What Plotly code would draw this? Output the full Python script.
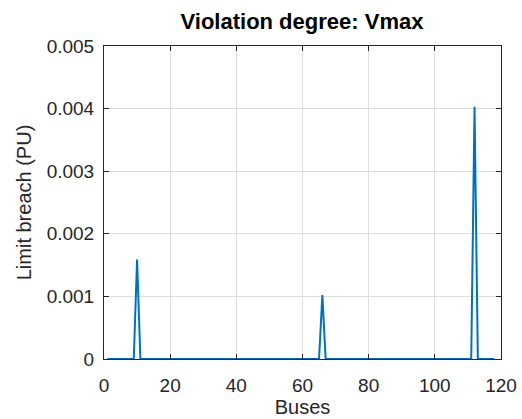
import plotly.graph_objects as go

buses = list(range(1, 119))
spike_buses = [10, 66, 112]
spike_values = [0.00159, 0.00102, 0.00403]

values = [0.0] * len(buses)
for b, v in zip(spike_buses, spike_values):
    values[buses.index(b)] = v

x_ticks = [0, 20, 40, 60, 80, 100, 120]
y_ticks = [0, 0.001, 0.002, 0.003, 0.004, 0.005]
y_tick_labels = ["0", "0.001", "0.002", "0.003", "0.004", "0.005"]

font_family = "Liberation Sans, Arial, sans-serif"

fig = go.Figure()
fig.add_trace(go.Scatter(x=buses, y=values, mode="lines",
                         line=dict(color="#0072BD", width=2)))

axis_common = dict(showline=True, linecolor="#262626", linewidth=1,
                   mirror="ticks", ticks="inside", ticklen=5, tickcolor="#262626",
                   showgrid=True, gridcolor="#dedede", gridwidth=1, zeroline=False,
                   automargin=False,
                   tickfont=dict(family=font_family, size=19, color="#262626"))

fig.update_layout(
    width=522, height=419,
    margin=dict(l=104, r=21, t=46, b=60),
    paper_bgcolor="white", plot_bgcolor="white",
    showlegend=False,
    title=dict(text="<b>Violation degree: Vmax</b>", x=0.5785, xanchor="center",
               y=0.950, yanchor="middle",
               font=dict(family=font_family, size=22, color="black")),
    xaxis=dict(range=[0, 120], tickvals=x_ticks, ticklabelstandoff=9,
               title=dict(text="Buses", standoff=0,
                          font=dict(family=font_family, size=20, color="#262626")),
               **axis_common),
    yaxis=dict(range=[0, 0.005], tickvals=y_ticks, ticktext=y_tick_labels,
               ticklabelstandoff=5,
               title=dict(text="Limit breach (PU)", standoff=9,
                          font=dict(family=font_family, size=20, color="#262626")),
               **axis_common),
)

fig.write_html("out.html")
